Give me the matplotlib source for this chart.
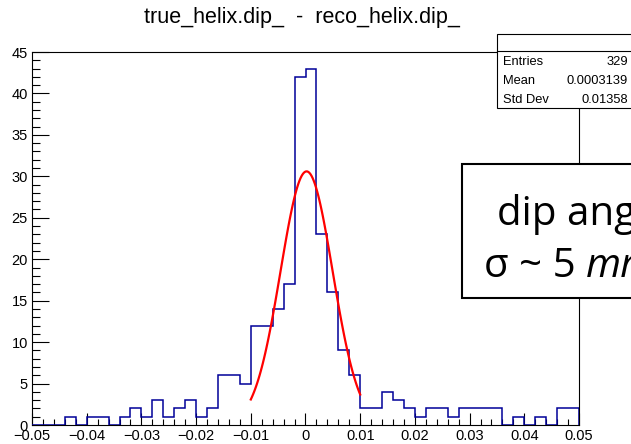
import numpy as np
import matplotlib
matplotlib.use("Agg")
import matplotlib.pyplot as plt
import matplotlib.patches as mpatches
import matplotlib.lines as mlines
from matplotlib.ticker import MultipleLocator

W, H = 631, 444

# histogram: 50 bins from -0.05 to 0.05
bin_lo, bin_hi, nbins = -0.05, 0.05, 50
counts = [0, 0, 0, 1, 0, 1, 1, 0, 1, 2,
          1, 3, 1, 2, 3, 1, 2, 6, 6, 5,
          12, 12, 14, 17, 42, 43, 23, 16, 9, 6,
          2, 2, 4, 3, 2, 1, 2, 2, 1, 2,
          2, 2, 2, 0, 1, 0, 1, 0, 2, 2]

# gaus fit drawn over [-0.01, 0.01]
fit_const = 30.6
fit_mean = 0.0002
fit_sigma = 0.00476
fit_range = (-0.01, 0.01)

title = "true_helix.dip_  -  reco_helix.dip_"
stat_names = ["Entries", "Mean", "Std Dev"]
stat_values = ["329", "0.0003139", "0.01358"]
note_line1 = "dip angle"
note_line2 = "σ ~ 5 "
note_unit = "mrad"


def px(x, y):
    return x / W, 1 - y / H


fig = plt.figure(figsize=(W / 100, H / 100), dpi=100)
ax = fig.add_axes([32 / W, 1 - 425 / H, (579 - 32) / W, (425 - 52) / H])

edges = np.linspace(bin_lo, bin_hi, nbins + 1)
ax.stairs(counts, edges, color="#000099", linewidth=1.1, zorder=3)

xf = np.linspace(fit_range[0], fit_range[1], 100)
yf = fit_const * np.exp(-0.5 * ((xf - fit_mean) / fit_sigma) ** 2)
ax.plot(xf, yf, color="#ff0000", linewidth=1.6, zorder=4)

ax.set_xlim(-0.05, 0.05)
ax.set_ylim(0, 45)
ax.xaxis.set_major_locator(MultipleLocator(0.01))
ax.xaxis.set_minor_locator(MultipleLocator(0.002))
ax.yaxis.set_major_locator(MultipleLocator(5))
ax.yaxis.set_minor_locator(MultipleLocator(1))
ax.xaxis.set_major_formatter(plt.FuncFormatter(
    lambda v, p: "0" if abs(v) < 1e-9 else ("%.2f" % v).replace("-", "\u2212")))
ax.tick_params(axis="x", which="major", direction="in", length=8.8, width=0.8,
               labelsize=10.5, pad=3)
ax.tick_params(axis="x", which="minor", direction="in", length=4.2, width=0.8)
ax.tick_params(axis="y", which="major", direction="in", length=12, width=0.8,
               labelsize=10.5, pad=3)
ax.tick_params(axis="y", which="minor", direction="in", length=6, width=0.8)
for lab in ax.get_xticklabels() + ax.get_yticklabels():
    lab.set_family("Liberation Sans")
for s in ax.spines.values():
    s.set_linewidth(0.8)

fig.text(*px(302, 18), title, ha="center", va="center", fontsize=15.5,
         family="Liberation Sans")

# stats box
x0, y0 = px(497, 108)
x1, y1 = px(720, 34)
fig.add_artist(mpatches.Rectangle((x0, y0), x1 - x0, y1 - y0, transform=fig.transFigure,
                                  facecolor="white", edgecolor="black", linewidth=0.8,
                                  zorder=5))
fig.add_artist(mlines.Line2D([x0, 1.0], [1 - 51 / H] * 2, transform=fig.transFigure,
                             color="black", linewidth=0.8, zorder=6))
for i, (n, v) in enumerate(zip(stat_names, stat_values)):
    yy = 62 + i * 19
    fig.text(*px(503, yy), n, ha="left", va="center", fontsize=9.3,
             family="Liberation Sans", zorder=7)
    fig.text(*px(628, yy), v, ha="right", va="center", fontsize=9.3,
             family="Liberation Sans", zorder=7)

# overlay text box
bx0, by0 = px(462, 298)
bx1, by1 = px(760, 164)
fig.add_artist(mpatches.Rectangle((bx0, by0), bx1 - bx0, by1 - by0, transform=fig.transFigure,
                                  facecolor="white", edgecolor="black", linewidth=1.5,
                                  zorder=5))
fig.text(*px(497, 225), note_line1, ha="left", va="baseline", fontsize=29,
         family="Open Sans", zorder=7)
t2 = fig.text(*px(484, 277), note_line2, ha="left", va="baseline", fontsize=29,
              family="Open Sans", zorder=7)
fig.canvas.draw()
bb = t2.get_window_extent(fig.canvas.get_renderer())
fig.text(bb.x1 / W, 1 - 277 / H, note_unit, ha="left", va="baseline", fontsize=29,
         family="Open Sans", style="italic", zorder=7)

fig.savefig("out.png", dpi=100)
